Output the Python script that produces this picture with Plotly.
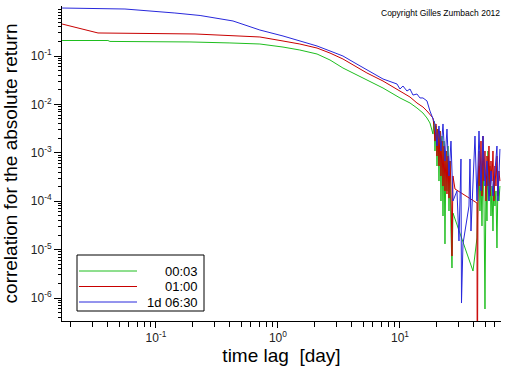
import plotly.graph_objects as go

# ---------------- data ----------------
SERIES_NAMES = ["00:03", "01:00", "1d 06:30"]

GREEN_X = [0.0170, 0.0404, 0.0420, 0.0557, 0.190, 0.404, 0.711, 1.10, 1.51, 2.09, 2.67, 3.41,
           4.28, 5.36, 7.26, 10.0, 12.08, 13.78, 15.43, 16.64, 17.61,
           18.64, 19.00, 19.36, 19.73, 20.11, 20.49, 20.88, 21.28, 21.68, 22.10, 22.52, 22.95,
           23.38, 23.83, 24.28, 24.74, 25.21, 25.70, 26.18, 26.68, 27.19, 39.67, 42.77, 43.59,
           44.42, 45.26, 46.13, 47.00, 47.90, 48.81, 49.74, 50.68, 51.65, 52.63, 53.63, 54.65,
           55.69, 56.75, 57.83, 58.93, 60.05, 61.19, 62.36, 63.54, 64.75, 65.98]
GREEN_Y = [0.209, 0.209, 0.200, 0.200, 0.195, 0.186, 0.177, 0.153, 0.133, 0.110, 0.0827, 0.0565,
           0.0425, 0.0319, 0.0218, 0.0136, 0.0107, 0.00843, 0.00664, 0.00524, 0.00413,
           2.44e-3, 4.54e-3, 1.09e-3, 3.58e-3, 5.34e-4, 3.10e-3, 2.61e-4, 2.82e-3, 1.01e-4, 2.22e-3,
           4.95e-5, 1.75e-3, 1.31e-5, 1.09e-3, 1.63e-4, 1.38e-3, 6.28e-5, 6.77e-4, 2.42e-5, 4.17e-6,
           5.70e-5, 3.61e-6, 1.74e-5, 1.63e-4, 5.34e-4, 6.28e-5, 3.32e-4, 3.08e-5, 6.77e-4, 1.01e-4,
           5.93e-7, 2.61e-4, 3.90e-5, 1.09e-3, 1.01e-4, 5.34e-4, 4.95e-5, 2.06e-4, 2.42e-5, 3.32e-4,
           7.96e-5, 1.63e-4, 1.08e-5, 2.61e-4, 1.01e-4, 2.06e-4]

RED_X = [0.0170, 0.0335, 0.209, 0.404, 0.711, 1.10, 1.51, 2.09, 2.67, 3.41, 4.28, 5.36, 7.26,
         10.0, 12.08, 13.78, 15.43, 16.64, 17.61,
         18.64, 19.00, 19.36, 19.73, 20.11, 20.49, 20.88, 21.28, 21.68, 22.10, 22.52, 22.95,
         23.38, 23.83, 24.28, 24.74, 25.21, 25.70, 26.18, 26.68, 27.19, 28.23, 42.77, 43.00,
         43.59, 44.42, 45.26, 46.13, 47.00, 47.90, 48.81, 49.74, 50.68, 51.65, 52.63, 53.63,
         54.65, 55.69, 56.75, 57.83, 58.93, 60.05, 61.19, 62.36, 63.54, 64.75, 65.98]
RED_Y = [0.458, 0.299, 0.285, 0.259, 0.247, 0.204, 0.177, 0.146, 0.115, 0.0867, 0.0621, 0.0446,
         0.0304, 0.0189, 0.0142, 0.0107, 0.00883, 0.00731, 0.00634,
         5.24e-3, 3.58e-3, 1.75e-3, 3.94e-3, 8.59e-4, 3.10e-3, 5.34e-4, 2.82e-3, 3.32e-4, 1.75e-3,
         2.06e-4, 1.38e-3, 1.63e-4, 1.09e-3, 1.41e-4, 8.59e-4, 1.16e-4, 6.77e-4, 2.06e-4, 7.38e-6,
         3.32e-4, 1.79e-4, 9.18e-5, 1e-9, 1.63e-4, 1.09e-3, 2.06e-4, 1.75e-3, 1.28e-4, 2.22e-3,
         2.61e-4, 1.09e-3, 1.01e-4, 8.59e-4, 2.06e-4, 1.38e-3, 1.28e-4, 6.77e-4, 2.61e-4, 1.09e-3,
         1.01e-4, 5.34e-4, 2.06e-4, 8.59e-4, 1.28e-4, 4.21e-4, 2.61e-4]

BLUE_X = [0.0170, 0.0557, 0.143, 0.230, 0.428, 0.589, 0.711, 1.10, 1.51, 2.09, 2.67, 3.41, 4.28,
          5.36, 7.26, 9.45, 10.0, 10.58, 11.41, 12.08, 12.78, 13.78, 14.58, 15.43, 16.64, 17.61,
          18.64, 19.36, 20.11, 20.88, 21.68, 22.52, 23.38, 24.28, 25.21, 26.18, 27.19, 29.32,
          30.45, 31.62, 31.93, 32.83, 36.78, 37.48, 38.19, 41.19, 42.77, 44.42, 46.13, 47.90,
          49.74, 51.65, 53.63, 55.69, 57.83, 60.05, 62.36, 63.54, 65.98]
BLUE_Y = [0.98, 0.935, 0.773, 0.687, 0.529, 0.397, 0.344, 0.259, 0.204, 0.161, 0.127, 0.100,
          0.0716, 0.0514, 0.0335, 0.0264, 0.0208, 0.0240, 0.0189, 0.0208, 0.0156, 0.0164, 0.0136,
          0.0136, 0.0118, 0.00731,
          4.99e-3, 3.94e-3, 1.38e-3, 3.58e-3, 1.09e-3, 3.94e-3, 6.77e-4, 3.10e-3, 3.32e-4, 1.75e-3,
          1.01e-4, 1.63e-4, 1.51e-5, 7.45e-4, 7.88e-7, 1.31e-5, 7.96e-5, 7.45e-4, 2.42e-5, 2.22e-3,
          1.01e-4, 2.82e-3, 1.63e-4, 2.22e-3, 2.06e-4, 6.77e-4, 1.01e-4, 4.21e-4, 1.28e-4, 5.34e-4,
          1.38e-3, 1.01e-4, 1.20e-3]

X_TICKS = [0.1, 1, 10]
X_TICK_TEXT = ["10<sup>-1</sup>", "10<sup>0</sup>", "10<sup>1</sup>"]
Y_TICKS = [1e-6, 1e-5, 1e-4, 1e-3, 1e-2, 1e-1]
Y_TICK_TEXT = ["10<sup>-6</sup>", "10<sup>-5</sup>", "10<sup>-4</sup>",
               "10<sup>-3</sup>", "10<sup>-2</sup>", "10<sup>-1</sup>"]

COLORS = ["rgb(30,190,30)", "rgb(200,0,0)", "rgb(40,40,220)"]
FONT = "Liberation Sans, Arial, sans-serif"

# ---------------- figure ----------------
fig = go.Figure()
for xs, ys, name, col in zip([GREEN_X, RED_X, BLUE_X], [GREEN_Y, RED_Y, BLUE_Y],
                             SERIES_NAMES, COLORS):
    fig.add_trace(go.Scatter(x=xs, y=ys, mode="lines", name=name,
                             line=dict(color=col, width=1), showlegend=False))

x_minor = [m * 10.0 ** k for k in range(-2, 2) for m in range(2, 10)]
y_minor = [m * 10.0 ** k for k in range(-7, 0) for m in range(2, 10)]

L, R, T, B = 62, 11, 6, 45
W, H = 512, 366
pw, ph = W - L - R, H - T - B


def px(x):
    return (x - L) / pw


def py(y):
    return (H - B - y) / ph


fig.update_layout(
    width=W, height=H,
    margin=dict(l=L, r=R, t=T, b=B, autoexpand=False),
    paper_bgcolor="white", plot_bgcolor="white",
    font=dict(family=FONT, color="black", size=12),
    xaxis=dict(type="log", range=[-1.770, 1.828], showline=True, linecolor="black",
               linewidth=1, mirror=False, showgrid=False, zeroline=False, automargin=False,
               tickmode="array", tickvals=X_TICKS, ticktext=X_TICK_TEXT,
               ticks="outside", ticklen=6, tickcolor="black",
               minor=dict(tickmode="array", tickvals=x_minor, ticks="outside",
                          ticklen=5, tickcolor="black", showgrid=False),
               tickfont=dict(size=12, color="#222"),
               title=dict(text="time lag  [day]", font=dict(size=19), standoff=0)),
    yaxis=dict(type="log", range=[-6.475, 0.033], showline=True, linecolor="black",
               linewidth=1, mirror=False, showgrid=False, zeroline=False, automargin=False,
               tickmode="array", tickvals=Y_TICKS, ticktext=Y_TICK_TEXT,
               ticks="outside", ticklen=7, tickcolor="black",
               minor=dict(tickmode="array", tickvals=y_minor, ticks="outside",
                          ticklen=3, tickcolor="black", showgrid=False),
               tickfont=dict(size=12, color="#222"),
               title=dict(text="correlation for the absolute return",
                          font=dict(size=19), standoff=9)),
)

# copyright
fig.add_annotation(x=px(502), y=py(13), xref="paper", yref="paper",
                   text="Copyright Gilles Zumbach 2012", showarrow=False,
                   xanchor="right", yanchor="middle", font=dict(size=8.5))

# legend box drawn like the original (long samples, right-aligned labels)
fig.add_shape(type="rect", xref="paper", yref="paper",
              x0=px(77), x1=px(204), y0=py(311), y1=py(255),
              line=dict(color="black", width=1), fillcolor="white", layer="above")
for i, (name, col) in enumerate(zip(SERIES_NAMES, COLORS)):
    yy = py(271 + i * 15.5)
    fig.add_shape(type="line", xref="paper", yref="paper",
                  x0=px(79), x1=px(137), y0=yy, y1=yy,
                  line=dict(color=col, width=1), layer="above")
    fig.add_annotation(x=px(200), y=yy, xref="paper", yref="paper", text=name,
                       showarrow=False, xanchor="right", yanchor="middle",
                       font=dict(size=13))

# the page's default 8px body margin would shift the figure; remove it
fig.write_html("out.html", config={"displayModeBar": False},
               post_script="document.body.style.margin='0';document.body.style.overflow='hidden';")
